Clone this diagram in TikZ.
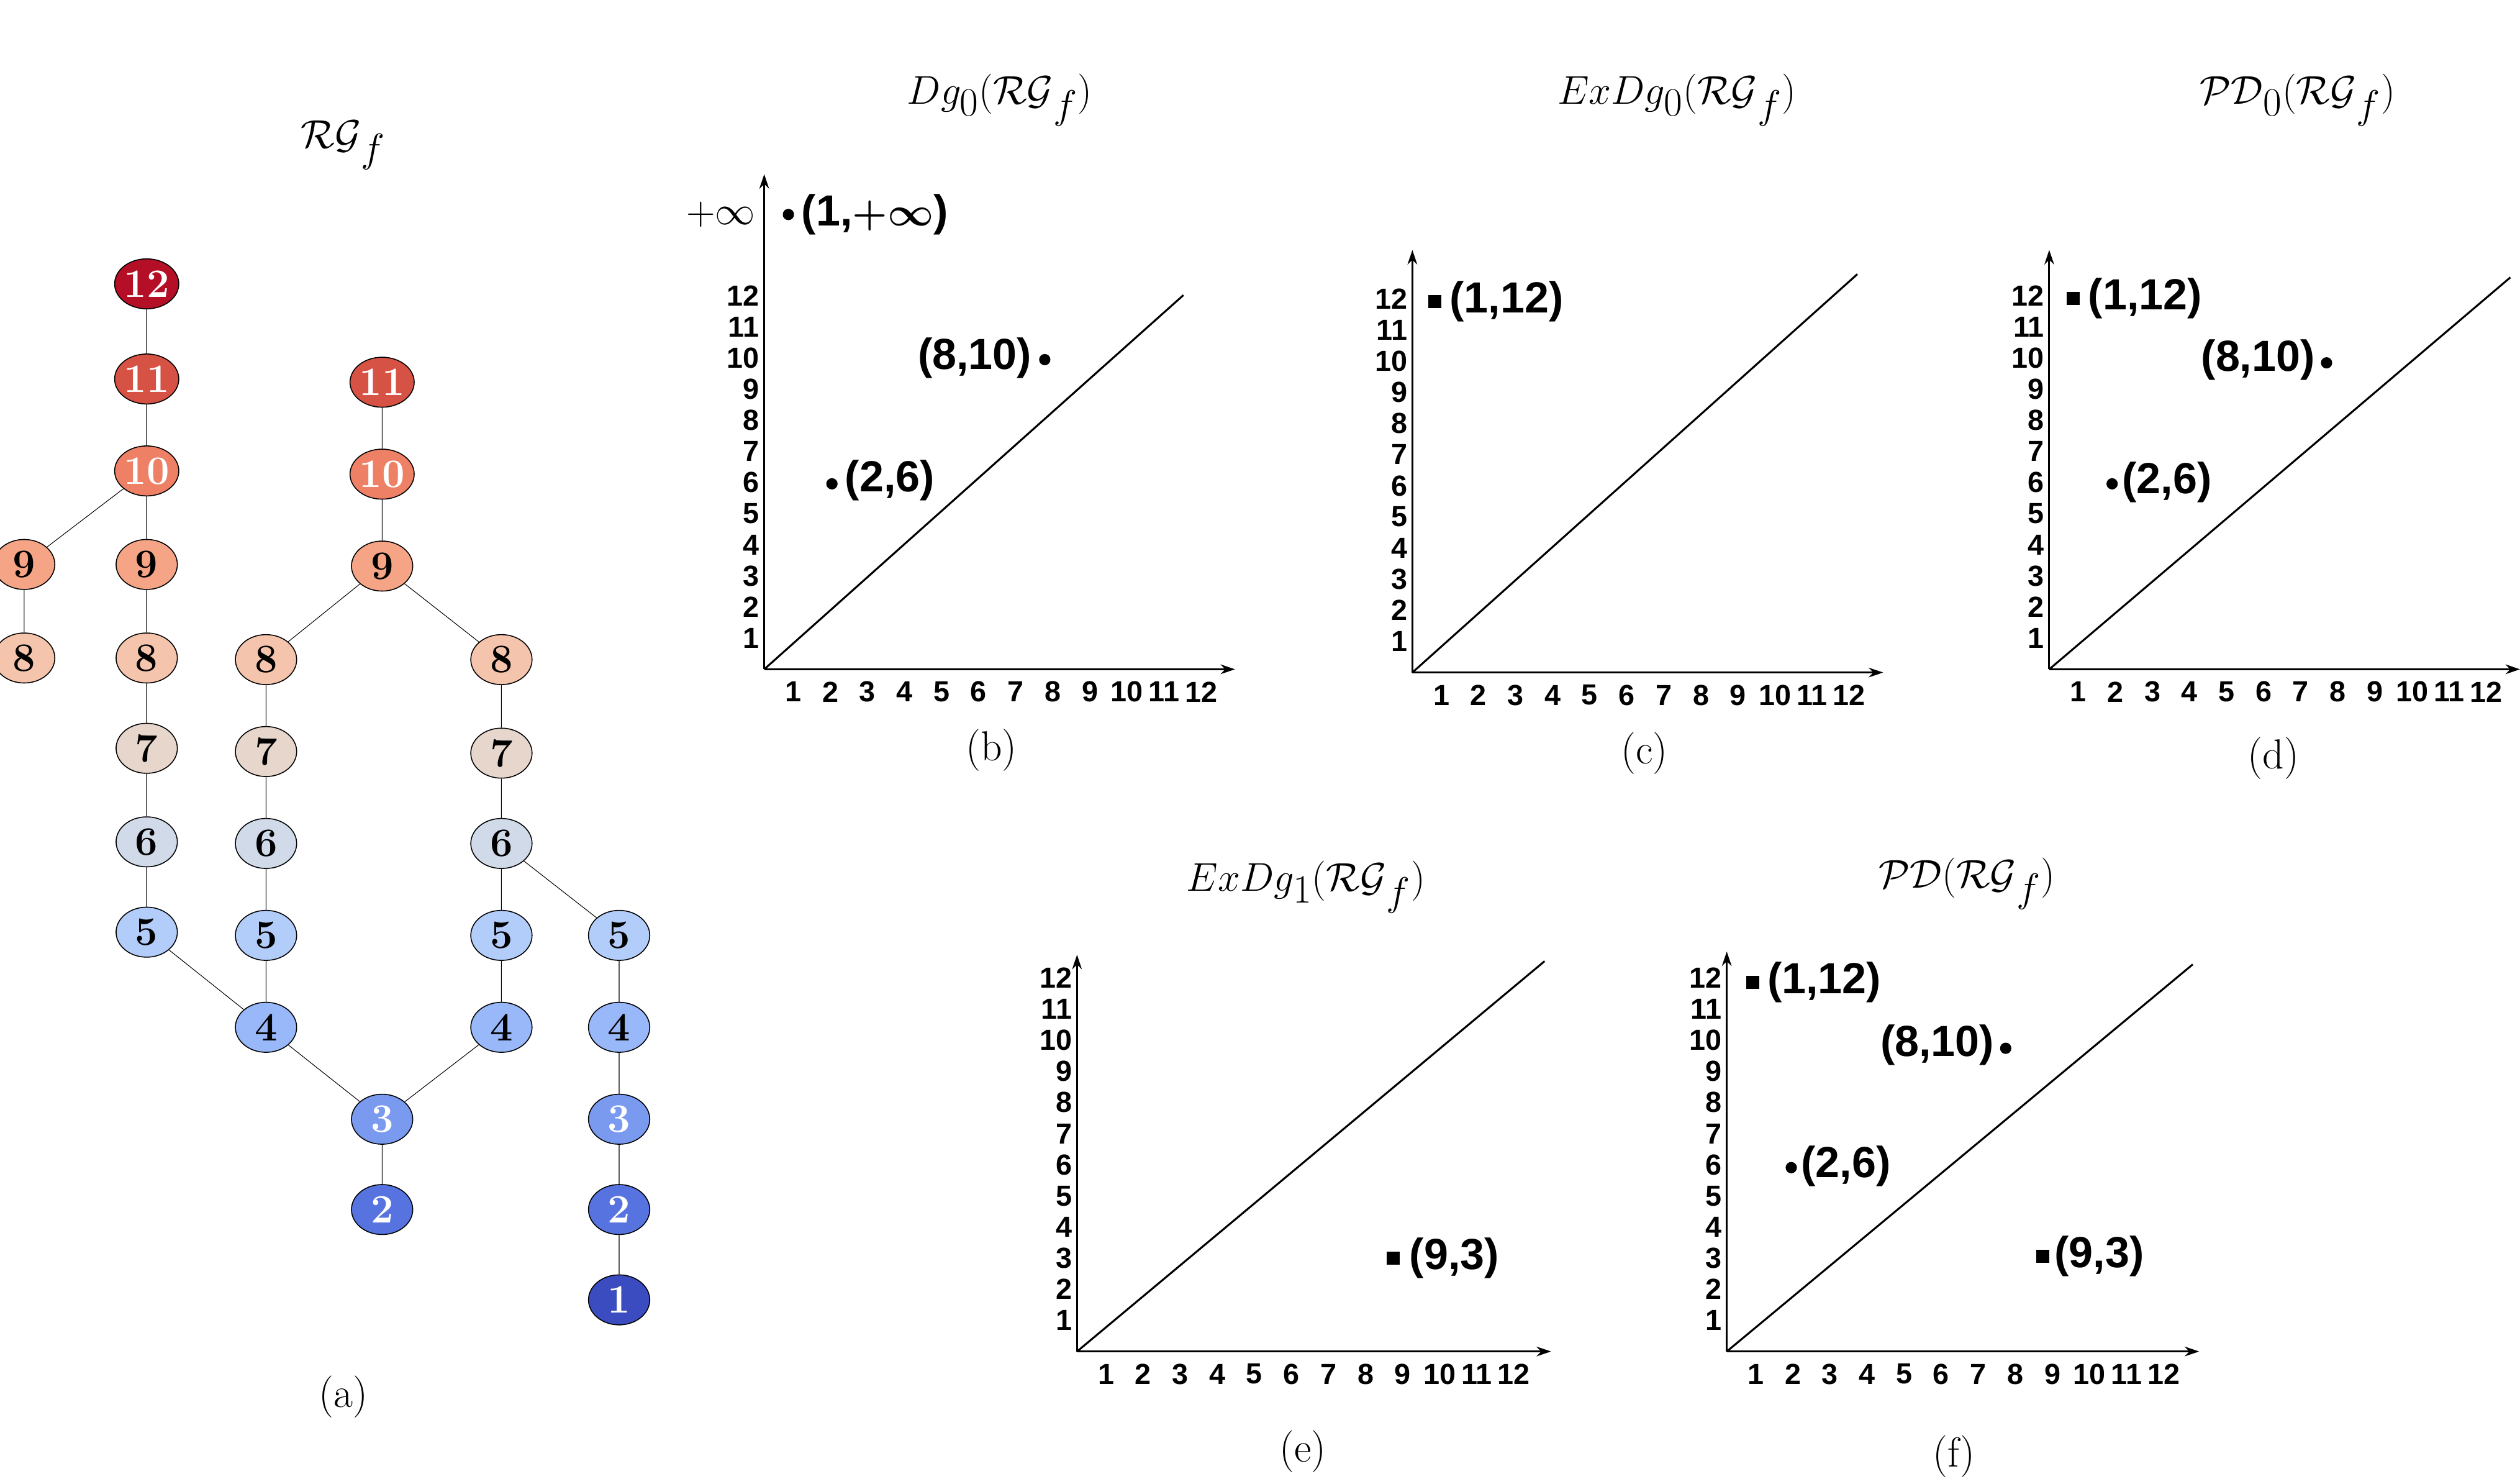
\documentclass[tikz,border=0pt]{standalone}
\usepackage{amsmath}
\usepackage{amssymb}
\usepackage{fontspec}
\newfontfamily\plotfont{Liberation Sans}
\usepackage{tikz}
\usetikzlibrary{arrows.meta,shapes.geometric}

\definecolor{c12}{HTML}{B40F26}
\definecolor{c11}{HTML}{D65244}
\definecolor{c10}{HTML}{EE8066}
\definecolor{c9}{HTML}{F5A586}
\definecolor{c8}{HTML}{F5C4AC}
\definecolor{c7}{HTML}{E7D6CC}
\definecolor{c6}{HTML}{D1DAE9}
\definecolor{c5}{HTML}{B3CDFA}
\definecolor{c4}{HTML}{98B8FA}
\definecolor{c3}{HTML}{7A9AF0}
\definecolor{c2}{HTML}{5673E0}
\definecolor{c1}{HTML}{3B4CC0}

\tikzset{
  vtx/.style={ellipse,draw,line width=0.6pt,minimum width=38pt,minimum height=31pt,inner sep=0pt,
    font=\fontsize{25}{25}\selectfont\bfseries,fill=c#1},
  vtxw/.style={vtx=#1,text=white},
  ticklab/.style={font=\plotfont\bfseries\fontsize{18}{18}\selectfont,inner sep=0pt},
  ptlab/.style={font=\plotfont\bfseries\fontsize{27}{27}\selectfont,inner sep=1pt},
  ttl/.style={font=\fontsize{56}{56}\selectfont},
  captxt/.style={font=\fontsize{26}{26}\selectfont},
  axisline/.style={line width=1.2pt,-{Stealth[length=9pt,width=6pt]}},
}

% persistence diagram axes: origin x, origin y, x end, y top, diagonal end x, y
\newcommand{\pdaxes}[6]{%
  \draw[axisline] (#1,#2) -- (#3,#2);
  \draw[axisline] (#1,#2) -- (#1,#4);
  \draw[line width=1.2pt] (#1,#2) -- (#5,#6);
  \foreach \i in {1,...,12}{
    \node[ticklab] at (#1+18+23*\i-23,#2+14) {\i};
    \node[ticklab,anchor=east] at (#1-3,#2-19.3*\i) {\i};
  }%
}

\begin{document}
\begin{tikzpicture}[x=1pt,y=1pt,yscale=-1]
\useasboundingbox (0,0) rectangle (1563,917);

%titles
\node[ttl] (ta) at (213,90) {$\mathcal{RG}_f$};
\node[ttl] (tb) at (620,62) {$Dg_0(\mathcal{RG}_f)$};
\node[ttl] (tc) at (1040,62) {$ExDg_0(\mathcal{RG}_f)$};
\node[ttl] (td) at (1425,62) {$\mathcal{PD}_0(\mathcal{RG}_f)$};
\node[ttl] (te) at (810,550) {$ExDg_1(\mathcal{RG}_f)$};
\node[ttl] (tf) at (1220,548) {$\mathcal{PD}(\mathcal{RG}_f)$};

%captions
\node[captxt] (ca) at (213,866) {(a)};
\node[captxt] (cb) at (615,465) {(b)};
\node[captxt] (cc) at (1020,467) {(c)};
\node[captxt] (cd) at (1410,470) {(d)};
\node[captxt] (ce) at (808,900) {(e)};
\node[captxt] (cf) at (1212,903) {(f)};

%graph nodes
\node[vtx=9] (a9) at (15,350) {9};
\node[vtx=8] (a8) at (15,408) {8};
\node[vtxw=12] (b12) at (91,176) {12};
\node[vtxw=11] (b11) at (91,235) {11};
\node[vtxw=10] (b10) at (91,292) {10};
\node[vtx=9] (b9) at (91,350) {9};
\node[vtx=8] (b8) at (91,408) {8};
\node[vtx=7] (b7) at (91,464) {7};
\node[vtx=6] (b6) at (91,522) {6};
\node[vtx=5] (b5) at (91,578) {5};
\node[vtx=8] (c8) at (165,409) {8};
\node[vtx=7] (c7) at (165,466) {7};
\node[vtx=6] (c6) at (165,523) {6};
\node[vtx=5] (c5) at (165,580) {5};
\node[vtx=4] (c4) at (165,637) {4};
\node[vtxw=11] (d11) at (237,237) {11};
\node[vtxw=10] (d10) at (237,294) {10};
\node[vtx=9] (d9) at (237,351) {9};
\node[vtxw=3] (d3) at (237,694) {3};
\node[vtxw=2] (d2) at (237,750) {2};
\node[vtx=8] (e8) at (311,409) {8};
\node[vtx=7] (e7) at (311,467) {7};
\node[vtx=6] (e6) at (311,523) {6};
\node[vtx=5] (e5) at (311,580) {5};
\node[vtx=4] (e4) at (311,637) {4};
\node[vtx=5] (f5) at (384,580) {5};
\node[vtx=4] (f4) at (384,637) {4};
\node[vtxw=3] (f3) at (384,694) {3};
\node[vtxw=2] (f2) at (384,750) {2};
\node[vtxw=1] (f1) at (384,806) {1};

%graph edges
\draw (b12) -- (b11) -- (b10) -- (b9) -- (b8) -- (b7) -- (b6) -- (b5) -- (c4);
\draw (b10) -- (a9) -- (a8);
\draw (d11) -- (d10) -- (d9) -- (c8) -- (c7) -- (c6) -- (c5) -- (c4) -- (d3) -- (d2);
\draw (d9) -- (e8) -- (e7) -- (e6) -- (e5) -- (e4) -- (d3);
\draw (e6) -- (f5) -- (f4) -- (f3) -- (f2) -- (f1);

%(b)
\pdaxes{474}{415}{766}{108}{734}{183}
\node[font=\fontsize{28}{28}\selectfont,anchor=east] (inf) at (472,133) {$+\infty$};
\fill (489,133) circle (3.5) coordinate (pb1);
\node[ptlab,anchor=west] (lb1) at (496,133) {(1,$\boldsymbol{+\infty}$)};
\fill (516,300) circle (3.5) coordinate (pb2);
\node[ptlab,anchor=west] (lb2) at (523,298) {(2,6)};
\fill (648,223) circle (3.5) coordinate (pb3);
\node[ptlab,anchor=east] (lb3) at (641,222) {(8,10)};

%(c)
\pdaxes{876}{417}{1168}{155}{1152}{170}
\fill (886,183) rectangle (894,191);
\node[ptlab,anchor=west] (lc1) at (898,187) {(1,12)};

%(d)
\pdaxes{1271}{415}{1563}{155}{1557}{172}
\fill (1282,181) rectangle (1290,189);
\node[ptlab,anchor=west] (ld1) at (1294,185) {(1,12)};
\fill (1443,225) circle (3.5);
\node[ptlab,anchor=east] (ld2) at (1437,223) {(8,10)};
\fill (1310,300) circle (3.5);
\node[ptlab,anchor=west] (ld3) at (1315,299) {(2,6)};

%(e)
\pdaxes{668}{838}{962}{592}{958}{596}
\fill (860,776) rectangle (868,784);
\node[ptlab,anchor=west] (le1) at (873,780) {(9,3)};

%(f)
\pdaxes{1071}{838}{1364}{590}{1360}{598}
\fill (1083,605) rectangle (1091,613);
\node[ptlab,anchor=west] (lf1) at (1095,609) {(1,12)};
\fill (1244,650) circle (3.5);
\node[ptlab,anchor=east] (lf2) at (1238,648) {(8,10)};
\fill (1111,724) circle (3.5);
\node[ptlab,anchor=west] (lf3) at (1116,723) {(2,6)};
\fill (1263,775) rectangle (1271,783);
\node[ptlab,anchor=west] (lf4) at (1273,779) {(9,3)};
\end{tikzpicture}
\end{document}
